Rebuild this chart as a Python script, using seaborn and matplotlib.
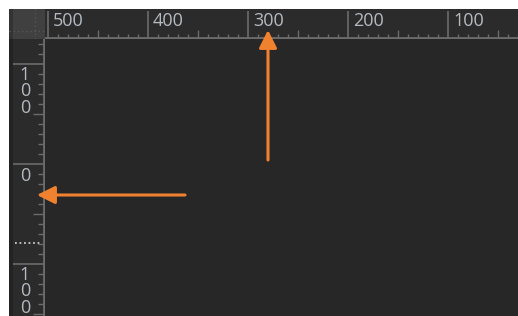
import matplotlib
matplotlib.use("Agg")
import matplotlib.pyplot as plt
import numpy as np
import seaborn as sns

# top ruler: values run right-to-left
top_major = [500, 400, 300, 200, 100]
top_labels = ["500", "400", "300", "200", "100"]
# left ruler: 0 in the middle, 100 above and below
left_major = [100, 0, -100]
left_labels = ["100", "0", "100"]
guide_y = -79          # dotted guide marker on the left ruler
# orange arrows, (start, end) in ruler units
arrow_v = [(280, 4), (280, 134)]
arrow_h = [(363, -31), (511, -31)]

bg_main = "#272727"
bg_ruler = "#2b2b2b"
bg_corner = "#404040"
tick_c = "#6b6b6b"
text_c = "#b4bac0"
orange = "#f0812f"

sns.set_theme(style="dark", rc={"axes.facecolor": bg_main})
plt.rcParams["font.family"] = ["Open Sans", "DejaVu Sans"]

W, H = 518, 316
fig = plt.figure(figsize=(W / 100, H / 100), dpi=100, facecolor="white")


def px_axes(x0, y0, x1, y1):
    ax = fig.add_axes([x0 / W, 1 - y1 / H, (x1 - x0) / W, (y1 - y0) / H])
    ax.set_xticks([])
    ax.set_yticks([])
    for s in ax.spines.values():
        s.set_visible(False)
    return ax


bg = px_axes(45, 39, 518, 316)
bg.set_facecolor(bg_main)

# corner box
corner = px_axes(9, 9, 45, 39)
corner.set_facecolor(bg_corner)
corner.set_xlim(0, 1)
corner.set_ylim(0, 1)
corner.axvline(0.72, color="#555555", lw=1, ls=(0, (1, 2)))
corner.axhline(0.27, color="#555555", lw=1, ls=(0, (1, 2)))
corner.axvspan(0, 0.1, color="#333333", lw=0)

# top ruler
top = px_axes(45, 9, 518, 39)
top.set_facecolor(bg_ruler)
top.set_xlim(503, 30)
top.set_ylim(0, 1)
minor = np.arange(30, 510, 10)
short = [v for v in minor if v % 50 != 0]
mid = [v for v in minor if v % 50 == 0 and v % 100 != 0]
sns.rugplot(x=short, height=0.17, ax=top, color=tick_c, lw=1, expand_margins=False)
sns.rugplot(x=mid, height=0.3, ax=top, color=tick_c, lw=1, expand_margins=False)
top.vlines(top_major, 0, 0.92, color=tick_c, lw=1.2)
top.axhline(0.02, color=tick_c, lw=2)
for v, lab in zip(top_major, top_labels):
    top.text(v - 5, 0.45, lab, color=text_c, fontsize=13, ha="left", va="baseline")

# left ruler
left = px_axes(9, 39, 45, 316)
left.set_facecolor(bg_ruler)
left.set_xlim(0, 1)
left.set_ylim(-152, 125)
lminor = np.arange(-150, 130, 10)
lshort = [v for v in lminor if v % 50 != 0]
lmid = [v for v in lminor if v % 50 == 0 and v % 100 != 0]
left.hlines(lshort, 0.8, 1, color=tick_c, lw=1)
left.hlines(lmid, 0.67, 1, color=tick_c, lw=1)
left.hlines(left_major, 0.1, 1, color=tick_c, lw=1.2)
left.axvline(0.98, color=tick_c, lw=2)
left.axvspan(0, 0.1, color="#232323", lw=0)
left.hlines([guide_y], 0.17, 0.9, color="#c8c8c8", lw=1.3, ls=(0, (1, 1.5)))
for v, lab in zip(left_major, left_labels):
    # baseline of the last stacked digit
    left.text(0.44, v - 17 - 16 * (len(lab) - 1), "\n".join(lab), color=text_c,
              fontsize=13, ha="center", va="baseline", linespacing=0.9)

# arrows on a transparent overlay so they can run into the rulers
main = px_axes(45, 39, 518, 316)
main.set_facecolor("none")
main.set_zorder(10)
main.set_xlim(503, 30)
main.set_ylim(-152, 125)
for (sx, sy), (ex, ey) in [arrow_v, arrow_h]:
    main.annotate("", xy=(ex, ey), xytext=(sx, sy), annotation_clip=False,
                  arrowprops=dict(arrowstyle="-|>,head_length=0.6,head_width=0.3",
                                  mutation_scale=18, color=orange, lw=2.2,
                                  shrinkA=0, shrinkB=0))

fig.savefig("out.png", dpi=100, facecolor="white")
